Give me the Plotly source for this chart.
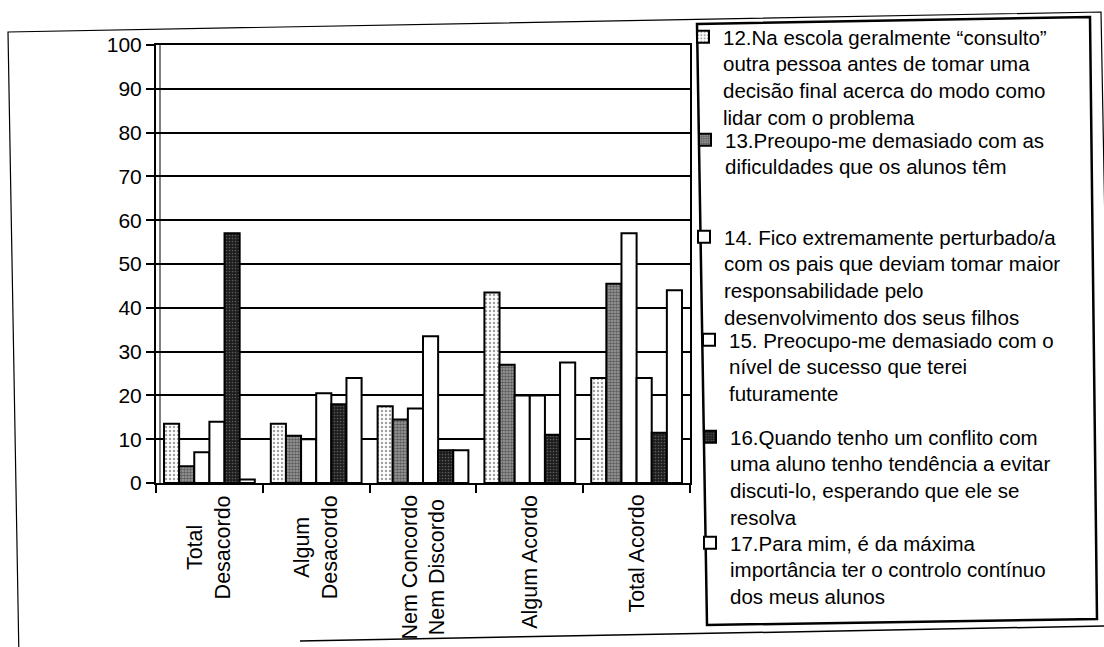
import plotly.graph_objects as go

# ---------------- data ----------------
categories = ["Total Desacordo", "Algum Desacordo", "Nem Concordo Nem Discordo",
              "Algum Acordo", "Total Acordo"]
category_labels = ["Total<br>Desacordo", "Algum<br>Desacordo",
                   "Nem Concordo<br>Nem Discordo", "Algum Acordo", "Total Acordo"]

s12 = [13.5, 13.5, 17.5, 43.5, 24.0]
s13 = [3.8, 10.8, 14.5, 27.0, 45.5]
s14 = [7.0, 10.0, 17.0, 20.0, 57.0]
s15 = [14.0, 20.5, 33.5, 20.0, 24.0]
s16 = [57.0, 18.0, 7.5, 11.0, 11.5]
s17 = [0.8, 24.0, 7.5, 27.5, 44.0]

series_names = [
    "12.Na escola geralmente \u201cconsulto\u201d<br>outra pessoa antes de tomar uma<br>decisão final acerca do modo como<br>lidar com o problema",
    "13.Preoupo-me demasiado com as<br>dificuldades que os alunos têm",
    "14. Fico extremamente perturbado/a<br>com os pais que deviam tomar maior<br>responsabilidade pelo<br>desenvolvimento dos seus filhos",
    "15. Preocupo-me demasiado com o<br>nível de sucesso que terei<br>futuramente",
    "16.Quando tenho um conflito com<br>uma aluno tenho tendência a evitar<br>discuti-lo, esperando que ele se<br>resolva",
    "17.Para mim, é da máxima<br>importância ter o controlo contínuo<br>dos meus alunos",
]
series_values = [s12, s13, s14, s15, s16, s17]
y_ticks = [0, 10, 20, 30, 40, 50, 60, 70, 80, 90, 100]

# ---------------- layout geometry (pixels) ----------------
W, H = 1104, 647
PL, PR, PT, PB = 156, 690, 45, 483          # plot area edges
PW, PH = PR - PL, PB - PT


def px(x):
    return (x - PL) / PW


def py(y):
    return (PB - y) / PH


FONT = "Arial, 'Liberation Sans', Helvetica, sans-serif"
LEG_FONT = 20.5

styles = [
    dict(color="#e6e6e6", pattern=dict(shape=".", bgcolor="white", fgcolor="#444", size=4, solidity=0.3)),
    dict(color="#8a8a8a", pattern=dict(shape=".", bgcolor="#a0a0a0", fgcolor="#1a1a1a", size=3, solidity=0.55)),
    dict(color="white"),
    dict(color="white"),
    dict(color="#2a2a2a", pattern=dict(shape=".", bgcolor="#1c1c1c", fgcolor="#9a9a9a", size=3, solidity=0.25)),
    dict(color="white"),
]

# legend placement per item (text start x, first line centre y)
leg_text_x = [723, 725, 724, 729, 730, 730]
leg_line_y = [38, 141, 238, 341, 438, 544]
legend_ids = ["legend", "legend2", "legend3", "legend4", "legend5", "legend6"]

fig = go.Figure()
for name, vals, st, lid in zip(series_names, series_values, styles, legend_ids):
    marker = dict(color=st["color"], line=dict(color="black", width=2))
    if "pattern" in st:
        marker["pattern"] = st["pattern"]
    fig.add_trace(go.Bar(x=categories, y=vals, name=name, marker=marker, legend=lid))

layout_legends = {}
for i, lid in enumerate(legend_ids):
    layout_legends[lid] = dict(
        x=px(leg_text_x[i] - 40), y=py(leg_line_y[i] - 21),
        xanchor="left", yanchor="top", xref="paper", yref="paper",
        bgcolor="rgba(0,0,0,0)", borderwidth=0, valign="top",
        font=dict(family=FONT, size=LEG_FONT, color="black"),
    )

annotations = []
for cat, lab in zip(categories, category_labels):
    annotations.append(dict(
        x=cat, y=0, xref="x", yref="y", text=lab, showarrow=False,
        textangle=-90, xanchor="center", yanchor="top", yshift=-10,
        align="center", font=dict(family=FONT, size=21.5, color="black"),
    ))

shapes = [
    # outer page frame (scanned, slightly tilted)
    dict(type="path", xref="paper", yref="paper",
         path=f"M {px(19)},{py(660)} L {px(8)},{py(32)} L {px(1101)},{py(12)} L {px(1113)},{py(660)}",
         line=dict(color="black", width=1.2)),
    dict(type="line", xref="paper", yref="paper",
         x0=px(300), y0=py(641), x1=px(1104), y1=py(626),
         line=dict(color="black", width=1.5)),
    # legend box
    dict(type="path", xref="paper", yref="paper",
         path=f"M {px(697)},{py(24)} L {px(1090)},{py(17)} L {px(1097)},{py(619)} L {px(707)},{py(625)} Z",
         line=dict(color="black", width=2.5)),
    # inner wall edge next to the value axis (3-D chart look)
    dict(type="line", xref="paper", yref="paper",
         x0=px(PL + 4), y0=0, x1=px(PL + 4), y1=1,
         line=dict(color="black", width=1)),
]

fig.update_layout(
    width=W, height=H,
    margin=dict(l=PL, r=W - PR, t=PT, b=H - PB, autoexpand=False),
    paper_bgcolor="white", plot_bgcolor="white",
    font=dict(family=FONT, size=21, color="black"),
    barmode="group", bargap=0.15, bargroupgap=0,
    annotations=annotations, shapes=shapes,
    showlegend=True,
    **layout_legends,
)
fig.update_xaxes(
    type="category", showticklabels=False, ticks="outside", tickson="boundaries",
    ticklen=8, tickwidth=2, tickcolor="black",
    showline=True, linecolor="black", linewidth=2, mirror=True,
    showgrid=False, zeroline=False,
)
fig.update_yaxes(
    range=[0, 100], tickvals=y_ticks, ticks="outside", ticklen=8, tickwidth=2,
    tickcolor="black", tickfont=dict(family=FONT, size=21, color="black"),
    showline=True, linecolor="black", linewidth=2, mirror=True,
    showgrid=True, gridcolor="black", gridwidth=1.5, zeroline=False,
)

fig.write_html("out.html", config={"displayModeBar": False},
               post_script="document.body.style.margin='0px';")
